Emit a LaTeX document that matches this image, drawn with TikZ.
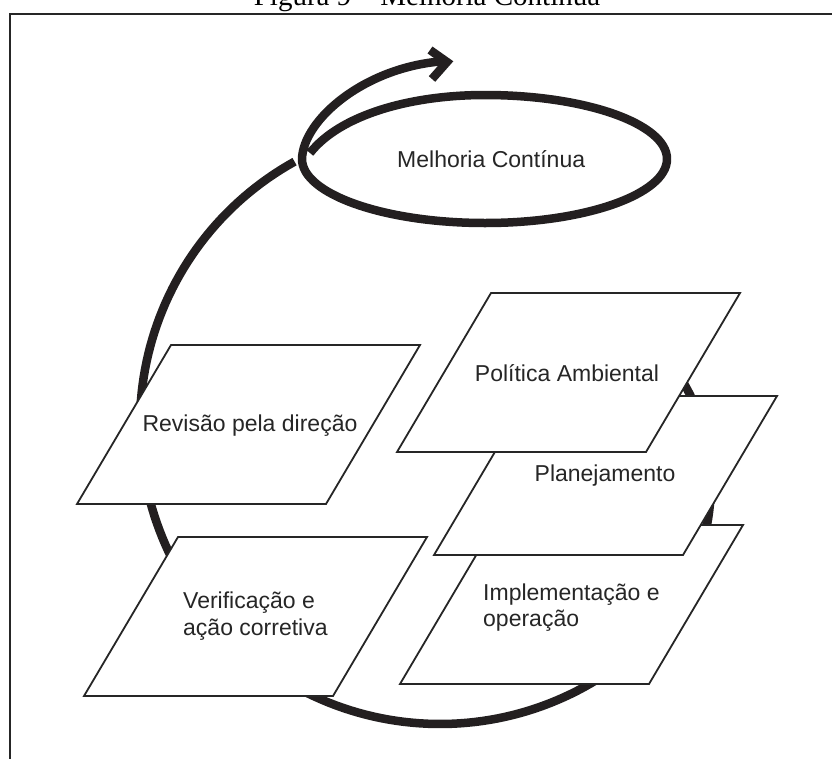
\documentclass[tikz,border=0pt]{standalone}
\usepackage{fontspec}
\setmainfont{Liberation Sans}
\newfontfamily\captionserif{Liberation Serif}
\definecolor{ink}{RGB}{35,31,32}
\begin{document}
\begin{tikzpicture}[x=1pt,y=-1pt,
  loopline/.style={draw=ink, line width=8.5pt, line cap=butt, line join=round},
  frameline/.style={draw=black!85, line width=2.5pt, line join=miter},
  slabline/.style={draw=black!85, line width=1.8pt, fill=white, line join=miter},
  lbl/.style={text=black!85, font=\fontsize{23}{26.5}\selectfont, inner sep=0pt},
  pics/slab/.style={code={
    \draw[slabline] (0,0) -- ++(249,0) -- ++(94,-159) -- ++(-249,0) -- cycle;}},
]
\useasboundingbox (0,0) rectangle (832,758);
\clip (0,0) rectangle (832,758);
\fill[white] (0,0) rectangle (832,758);

% caption line, cut by the top of the page
\node[anchor=base, font=\captionserif\fontsize{29}{29}\selectfont, inner sep=0pt]
  (caption) at (427,5) {Figura 9 – Melhoria Contínua};

% open frame
\coordinate (frameTR) at (840,14);
\coordinate (frameTL) at (10,14);
\coordinate (frameBL) at (10,770);
\draw[frameline] (frameTR) -- (frameTL) -- (frameBL);

% the big spiral around the five stages (radius grows from its start)
\draw[loopline] plot[domain=-25:241, samples=180, variable=\t]
  ({440+(300-0.0131*max(0,54-\t)*max(0,54-\t))*cos(\t)},
   {424+(300-0.0131*max(0,54-\t)*max(0,54-\t))*sin(\t)});

% the loop at the top and the outgoing arrow
\coordinate (loopIn) at (310,153);
\coordinate (tipBase) at (446,61);
\draw[loopline] (loopIn) .. controls (340,115) and (410,95) .. (485,95)
  .. controls (586,95) and (667,124) .. (667,159)
  .. controls (667,194) and (586,223) .. (485,223)
  .. controls (384,223) and (302,194) .. (302,159)
  .. controls (303,120) and (365,66) .. (tipBase);
\coordinate (barbA) at (430,50);
\coordinate (barbTip) at (447,62);
\coordinate (barbB) at (432,79);
\draw[loopline, line join=miter] (barbA) -- (barbTip) -- (barbB);

% stage plates (lower plates first)
\pic at (77,504) {slab};
\pic at (84,696) {slab};
\pic at (400,684) {slab};
\pic at (434,555) {slab};
\pic at (397,452) {slab};

% labels
\node[lbl, anchor=base west] (melhoria) at (397,167) {Melhoria Contínua};
\node[lbl, anchor=base] (revisao) at (250,431) {Revisão pela direção};
\node[lbl, anchor=base] (politica) at (567,381) {Política Ambiental};
\node[lbl, anchor=base] (planejamento) at (605,481) {Planejamento};
\node[lbl, anchor=base west, align=left] (verificacao) at (183,635)
  {Verificação e\\ação corretiva};
\node[lbl, anchor=base west, align=left] (implementacao) at (483,626.5)
  {Implementação e\\operação};
\end{tikzpicture}
\end{document}
